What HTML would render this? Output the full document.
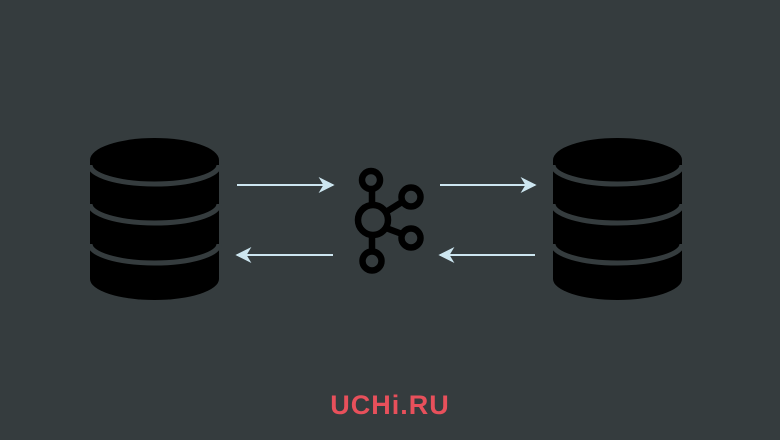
<!DOCTYPE html>
<html><head><style>
html,body{margin:0;padding:0;background:#353c3e;}
body{width:780px;height:440px;overflow:hidden;position:relative;}
.t{position:absolute;left:0;width:780px;top:390px;text-align:center;font-family:"Liberation Sans",sans-serif;font-weight:bold;font-size:27px;color:#e8505b;letter-spacing:1px;}
</style></head><body>
<svg width="780" height="440" style="position:absolute;left:0;top:0">
<defs>
<g id="db">
<rect x="0" y="160" width="129" height="119" fill="#000"/>
<ellipse cx="64.5" cy="279" rx="64.5" ry="21" fill="#000"/>
<ellipse cx="64.5" cy="160" rx="64.5" ry="22" fill="#000"/>
<path d="M0 165 A64.5 19 0 0 0 129 165" fill="none" stroke="#353c3e" stroke-width="5"/>
<path d="M0 204 A64.5 19 0 0 0 129 204" fill="none" stroke="#353c3e" stroke-width="5"/>
<path d="M0 244 A64.5 19 0 0 0 129 244" fill="none" stroke="#353c3e" stroke-width="5"/>
</g>
<marker id="ah" viewBox="0 0 10 10" refX="9" refY="5" markerWidth="9" markerHeight="8" orient="auto-start-reverse">
<path d="M0 0 L10 5 L0 10 L3 5 Z" fill="#cde6f0"/>
</marker>
</defs>
<use href="#db" x="90"/>
<use href="#db" x="553"/>
<g stroke="#cde6f0" stroke-width="2" marker-end="url(#ah)">
<line x1="237" y1="185" x2="333" y2="185"/>
<line x1="333" y1="255" x2="237" y2="255"/>
<line x1="440" y1="185" x2="535" y2="185"/>
<line x1="535" y1="255" x2="440" y2="255"/>
</g>
<g stroke="#000" stroke-width="6.5" fill="none">
<line x1="372" y1="190" x2="372" y2="204"/>
<line x1="372" y1="236" x2="372" y2="251"/>
<line x1="386" y1="212" x2="402" y2="202"/>
<line x1="386" y1="228" x2="402" y2="234"/>
<circle cx="371" cy="180" r="9"/>
<circle cx="373" cy="220" r="15"/>
<circle cx="411" cy="197" r="9.5"/>
<circle cx="411" cy="238" r="9.5"/>
<circle cx="372" cy="261" r="9.5"/>
</g>
</svg>
<div class="t">UCHi.RU</div>
</body></html>
